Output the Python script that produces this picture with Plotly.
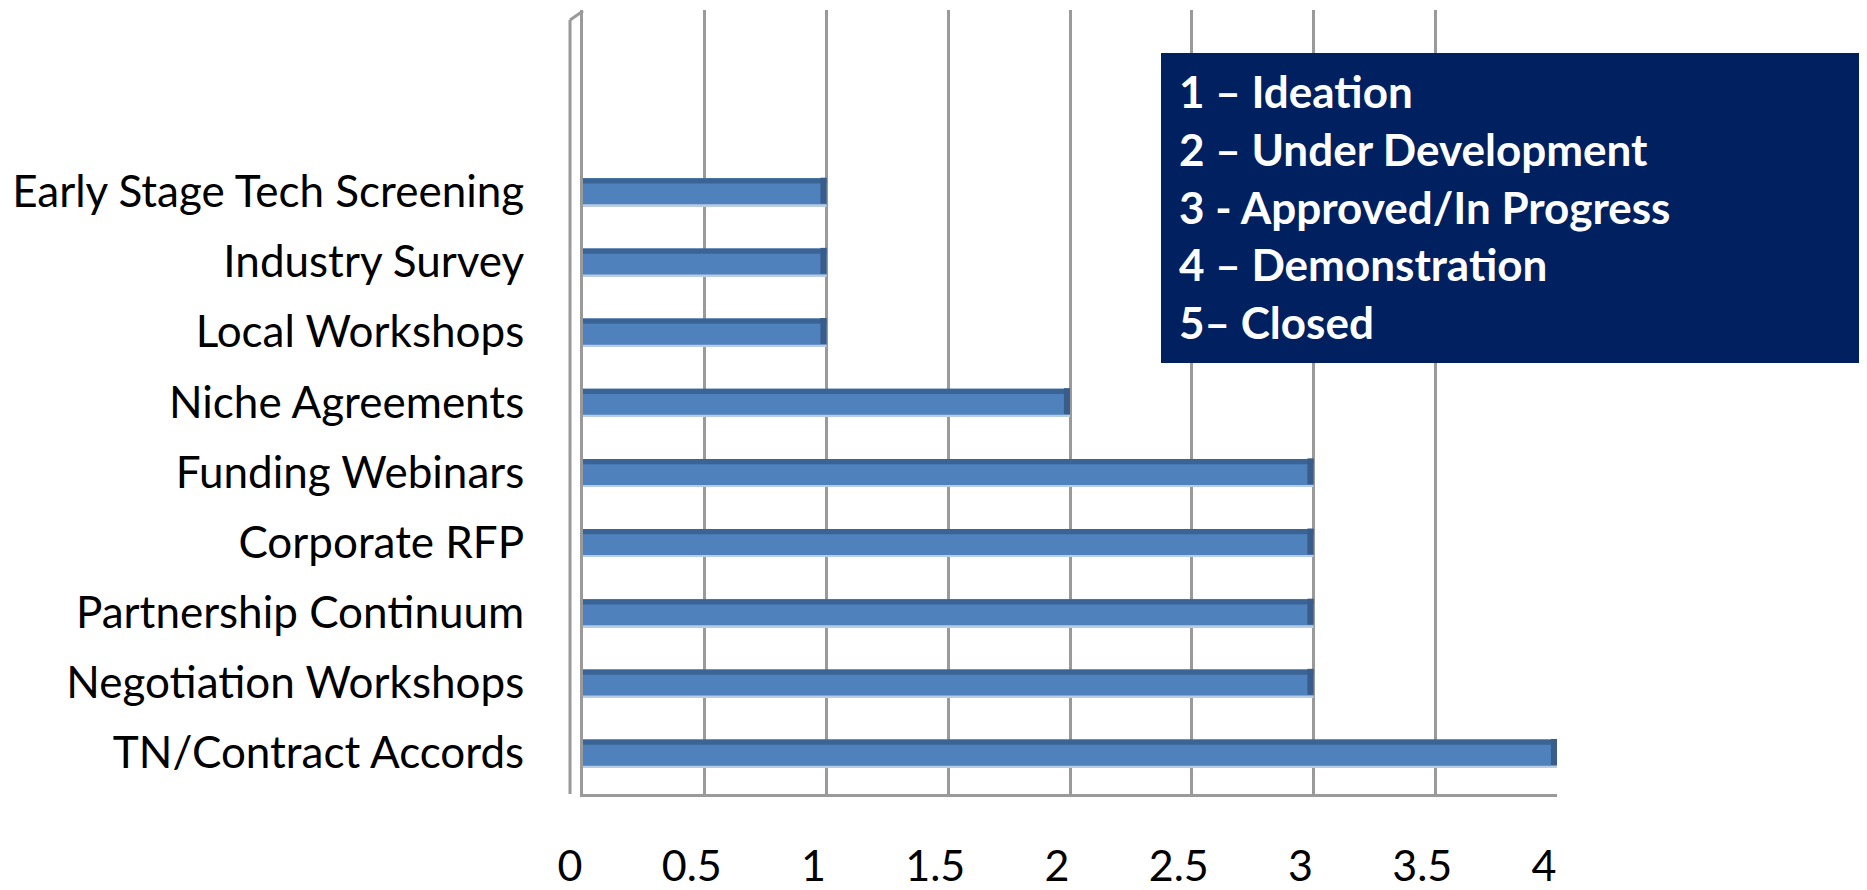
import plotly.graph_objects as go

categories = [
    "TN/Contract Accords",
    "Negotiation Workshops",
    "Partnership Continuum",
    "Corporate RFP",
    "Funding Webinars",
    "Niche Agreements",
    "Local Workshops",
    "Industry Survey",
    "Early Stage Tech Screening",
]
values = [4, 3, 3, 3, 3, 2, 1, 1, 1]
x_ticks = [0, 0.5, 1, 1.5, 2, 2.5, 3, 3.5, 4]
x_tick_labels = ["0", "0.5", "1", "1.5", "2", "2.5", "3", "3.5", "4"]
stage_lines = [
    "1 \u2013 Ideation",
    "2 \u2013 Under Development",
    "3 - Approved/In Progress",
    "4 \u2013 Demonstration",
    "5\u2013 Closed",
]

OFF = 8  # page body margin of the browser
W, H = 1867 - OFF, 890 - OFF
# plot area in screen px, converted to figure px
L, R, T, B = 583 - OFF, 1557 - OFF, 10 - OFF, 794 - OFF
pw, ph = R - L, B - T

def px_x(p):
    return (p - OFF - L) / pw

def px_y(p):
    return (B - (p - OFF)) / ph

FONT = "Lato"
GRID = "#9a9a9a"
cap = 0.025  # end-cap depth in data units

fig = go.Figure()
# main bar body
fig.add_trace(go.Bar(
    y=categories, x=values, orientation="h",
    marker=dict(color="#4f81bd", line=dict(width=0)),
    width=0.384, offset=-0.192, hoverinfo="skip",
))
# darker top face
fig.add_trace(go.Bar(
    y=categories, x=values, orientation="h",
    marker=dict(color="#3b6496", line=dict(width=0)),
    width=0.075, offset=0.117, hoverinfo="skip",
))
# light bottom edge
fig.add_trace(go.Bar(
    y=categories, x=values, orientation="h",
    marker=dict(color="#b8cce4", line=dict(width=0)),
    width=0.025, offset=-0.205, hoverinfo="skip",
))
# darker right end cap
fig.add_trace(go.Bar(
    y=categories, x=[cap] * len(values), base=[v - cap for v in values],
    orientation="h",
    marker=dict(color="#385d8a", line=dict(width=0)),
    width=0.37, offset=-0.17, hoverinfo="skip",
))

fig.update_layout(
    width=W, height=H,
    margin=dict(l=L, r=W - R, t=T, b=H - B, pad=0),
    paper_bgcolor="white", plot_bgcolor="white",
    barmode="overlay", showlegend=False,
    font=dict(family=FONT, color="black"),
    xaxis=dict(
        range=[0, 4.0], tickvals=x_ticks, ticktext=x_tick_labels,
        showgrid=True, gridcolor=GRID, gridwidth=3,
        zeroline=False, showline=True, linecolor=GRID, linewidth=3,
        tickfont=dict(family=FONT, size=43, color="black"),
        ticks="", ticklen=0, ticklabelstandoff=32, ticklabelshift=-13,
        automargin=False,
    ),
    yaxis=dict(
        type="category", categoryorder="array", categoryarray=categories,
        range=[-0.584, 10.59],
        showgrid=False, zeroline=False,
        showline=True, linecolor=GRID, linewidth=3,
        tickfont=dict(family=FONT, size=44, color="black"),
        ticks="", ticklabelstandoff=47,
        automargin=False,
    ),
)

# left wall outer line
fig.add_shape(type="line", xref="paper", yref="paper",
              x0=px_x(570), x1=px_x(570), y0=px_y(794), y1=px_y(20),
              line=dict(color=GRID, width=3), layer="below")
fig.add_shape(type="line", xref="paper", yref="paper",
              x0=px_x(570), x1=px_x(583), y0=px_y(20), y1=px_y(11),
              line=dict(color=GRID, width=3), layer="below")

# stage legend box
fig.add_shape(type="rect", xref="paper", yref="paper",
              x0=px_x(1161), x1=px_x(1875), y0=px_y(363), y1=px_y(53),
              fillcolor="#002060", line=dict(width=0), layer="above")
row_centers = [91, 149, 207, 264, 322]
for txt, yc in zip(stage_lines, row_centers):
    fig.add_annotation(
        xref="paper", yref="paper", x=px_x(1177), y=px_y(yc),
        xanchor="left", yanchor="middle", showarrow=False,
        text="<b>" + txt + "</b>",
        font=dict(family=FONT, size=44, color="white"),
    )

fig.write_html("out.html")
